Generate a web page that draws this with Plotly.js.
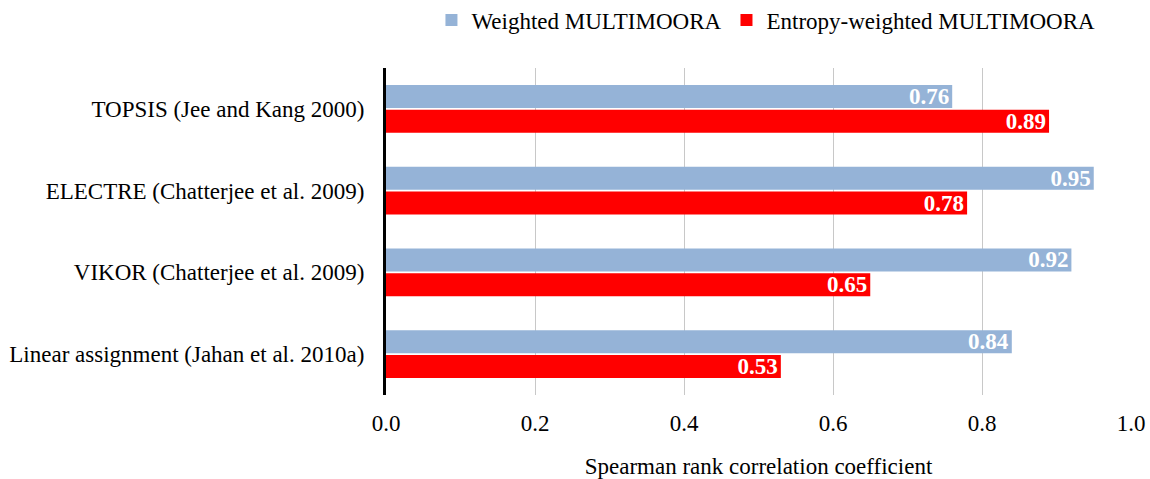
<!DOCTYPE html>
<html>
<head>
<meta charset="utf-8">
<script src="https://cdn.plot.ly/plotly-3.0.1.min.js"></script>
<style>html,body{margin:0;padding:0;background:#fff}#chart{width:1150px;height:479px}</style>
</head>
<body>
<div id="chart"></div>
<script>
var categories = ["TOPSIS (Jee and Kang 2000)", "ELECTRE (Chatterjee et al. 2009)", "VIKOR (Chatterjee et al. 2009)", "Linear assignment (Jahan et al. 2010a)"];
var weightedValues = [0.76, 0.95, 0.92, 0.84];
var entropyValues = [0.89, 0.78, 0.65, 0.53];
var seriesNames = ["Weighted MULTIMOORA", "Entropy-weighted MULTIMOORA"];
var tickValues = [0, 0.2, 0.4, 0.6, 0.8, 1.0];

var font = "'Liberation Serif', 'Times New Roman', serif";
var fs = 23;

var traces = [
  {
    type: "bar", orientation: "h", name: seriesNames[0],
    y: categories, x: weightedValues,
    marker: {color: "#95b3d7"},
    text: weightedValues.map(function(v){return v.toFixed(2);}),
    textposition: "inside", insidetextanchor: "end", constraintext: "none",
    textfont: {family: font, size: fs, color: "#ffffff", weight: "bold"},
    hoverinfo: "x+name"
  },
  {
    type: "bar", orientation: "h", name: seriesNames[1],
    y: categories, x: entropyValues,
    marker: {color: "#ff0000"},
    text: entropyValues.map(function(v){return v.toFixed(2);}),
    textposition: "inside", insidetextanchor: "end", constraintext: "none",
    textfont: {family: font, size: fs, color: "#ffffff", weight: "bold"},
    hoverinfo: "x+name"
  }
];

var layout = {
  width: 1150, height: 479,
  margin: {l: 386, r: 19, t: 68, b: 84, autoexpand: false},
  paper_bgcolor: "#ffffff", plot_bgcolor: "#ffffff",
  font: {family: font, size: fs, color: "#000000"},
  barmode: "group", bargap: 0.39, bargroupgap: 0.08,
  showlegend: true,
  legend: {
    orientation: "h", x: 0.51, xanchor: "center", y: 1.147, yanchor: "middle",
    font: {family: font, size: fs, color: "#000000"},
    traceorder: "normal", itemwidth: 30
  },
  xaxis: {
    range: [0, 1.0], tickvals: tickValues, tickformat: ".1f",
    showgrid: true, gridcolor: "#c8c8c8", gridwidth: 1,
    zeroline: false, showline: false, ticks: "",
    ticklabelstandoff: 12,
    tickfont: {family: font, size: fs, color: "#000000"},
    title: {text: "Spearman rank correlation coefficient", font: {family: font, size: fs, color: "#000000"}, standoff: 22},
    automargin: false,
    fixedrange: true
  },
  yaxis: {
    autorange: "reversed", type: "category",
    showline: true, linecolor: "#000000", linewidth: 3,
    showgrid: false, zeroline: false, ticks: "",
    ticklabelstandoff: 14, automargin: false,
    tickfont: {family: font, size: fs, color: "#000000"},
    fixedrange: true
  }
};

Plotly.newPlot("chart", traces, layout, {displayModeBar: false, staticPlot: true});
</script>
</body>
</html>
